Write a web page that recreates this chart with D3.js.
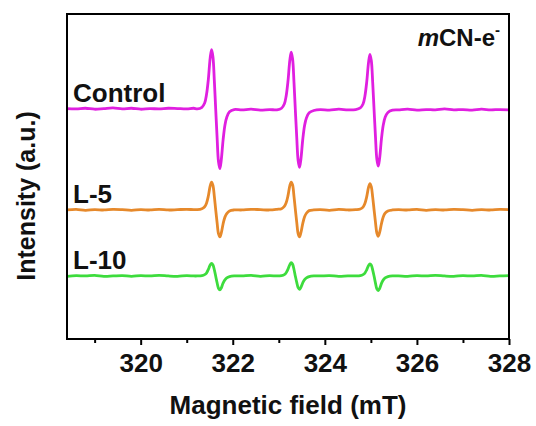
<!DOCTYPE html>
<html>
<head>
<meta charset="utf-8">
<script src="https://cdn.jsdelivr.net/npm/d3@7"></script>
<style>
  body { margin: 0; background: #fff; }
  text { font-family: "Liberation Sans", Arial, sans-serif; font-weight: bold; }
</style>
</head>
<body>
<div id="svg-container"></div>
<script>

// Field points (mT), shared by the three spectra.
var field = [
    318.4, 318.6, 318.8, 319.0, 319.2, 319.4, 319.6, 319.8, 320.0, 320.2, 320.4, 320.6, 320.8, 321.0, 321.15,
    321.23, 321.33, 321.39, 321.43, 321.47, 321.51, 321.54, 321.57, 321.60, 321.63, 321.66, 321.69, 321.72, 321.75, 321.79, 321.83, 321.87, 321.93, 322.03,
    322.2, 322.4, 322.6, 322.8,
    322.96, 323.06, 323.12, 323.16, 323.20, 323.24, 323.27, 323.30, 323.33, 323.36, 323.39, 323.42, 323.45, 323.48, 323.52, 323.56, 323.60, 323.66, 323.76,
    323.9, 324.1, 324.3, 324.5,
    324.67, 324.77, 324.83, 324.87, 324.91, 324.95, 324.98, 325.01, 325.04, 325.07, 325.10, 325.13, 325.16, 325.19, 325.23, 325.27, 325.31, 325.37, 325.47,
    325.6, 325.8, 326.0, 326.2, 326.4, 326.6, 326.8, 327.0, 327.2, 327.4, 327.6, 327.8, 328.0
];

// Intensity (a.u., stacked with offsets as in the figure)
var control = [
    7.09, 7.08, 7.10, 7.07, 7.09, 7.11, 7.08, 7.10, 7.07, 7.09, 7.08, 7.10, 7.09, 7.08, 7.10,
    7.08, 7.13, 7.26, 7.52, 7.99, 8.65, 8.90, 8.68, 7.95, 7.06, 6.20, 5.46, 5.24, 5.50, 6.12, 6.58, 6.82, 6.99, 7.06,
    7.05, 7.07, 7.04, 7.06,
    7.05, 7.10, 7.23, 7.48, 7.94, 8.58, 8.83, 8.62, 7.90, 7.03, 6.20, 5.49, 5.28, 5.53, 6.13, 6.57, 6.80, 6.96, 7.03,
    7.06, 7.04, 7.07, 7.05,
    7.06, 7.11, 7.23, 7.47, 7.91, 8.52, 8.76, 8.56, 7.88, 7.04, 6.22, 5.53, 5.32, 5.56, 6.16, 6.59, 6.82, 6.97, 7.04,
    7.05, 7.07, 7.04, 7.06, 7.05, 7.08, 7.05, 7.06, 7.04, 7.07, 7.05, 7.06, 7.05
];

var l5 = [
    3.97, 3.99, 3.96, 3.98, 3.97, 3.99, 3.98, 3.96, 3.98, 3.97, 3.99, 3.97, 3.98, 3.99, 3.98,
    3.98, 4.01, 4.07, 4.18, 4.40, 4.71, 4.83, 4.73, 4.39, 3.97, 3.58, 3.24, 3.14, 3.26, 3.54, 3.75, 3.86, 3.94, 3.97,
    3.97, 3.99, 3.98, 3.97,
    3.99, 4.01, 4.08, 4.19, 4.41, 4.72, 4.83, 4.74, 4.39, 3.98, 3.59, 3.24, 3.14, 3.27, 3.55, 3.76, 3.87, 3.95, 3.97,
    3.98, 3.96, 3.99, 3.97,
    3.98, 4.00, 4.06, 4.17, 4.38, 4.67, 4.78, 4.68, 4.36, 3.97, 3.59, 3.26, 3.16, 3.28, 3.55, 3.76, 3.87, 3.94, 3.97,
    3.98, 3.97, 3.99, 3.96, 3.98, 3.97, 3.99, 3.98, 3.96, 3.98, 3.97, 3.99, 3.98
];

var l10 = [
    1.93, 1.95, 1.94, 1.96, 1.93, 1.94, 1.95, 1.93, 1.95, 1.94, 1.96, 1.94, 1.93, 1.95, 1.94,
    1.94, 1.95, 1.98, 2.03, 2.14, 2.28, 2.33, 2.28, 2.13, 1.93, 1.73, 1.56, 1.51, 1.57, 1.72, 1.82, 1.88, 1.92, 1.94,
    1.94, 1.96, 1.93, 1.95,
    1.94, 1.95, 1.98, 2.04, 2.15, 2.29, 2.35, 2.30, 2.14, 1.93, 1.74, 1.58, 1.53, 1.59, 1.73, 1.83, 1.88, 1.92, 1.94,
    1.94, 1.95, 1.93, 1.94,
    1.94, 1.95, 1.98, 2.03, 2.13, 2.26, 2.31, 2.27, 2.12, 1.93, 1.72, 1.54, 1.49, 1.55, 1.71, 1.82, 1.88, 1.92, 1.94,
    1.94, 1.93, 1.95, 1.94, 1.96, 1.94, 1.93, 1.95, 1.94, 1.96, 1.93, 1.94, 1.95
];

var seriesNames = ["Control", "L-5", "L-10"];
var seriesColors = ["#e01fe0", "#e6892b", "#3ddc3d"];
var majorTicks = [320, 322, 324, 326, 328];
var minorTicks = [319, 321, 323, 325, 327];

var width = 536,
    height = 426,
    margin = { top: 14, right: 27, bottom: 87, left: 67 };

var plotW = width - margin.left - margin.right,
    plotH = height - margin.top - margin.bottom;

// Create the SVG Container.

var svgContainer = d3.select("#svg-container")
    .append("svg")
    .attr("width", width)
    .attr("height", height);

var g = svgContainer.append("g")
    .attr("transform", "translate(" + margin.left + "," + margin.top + ")");

var x = d3.scaleLinear().domain([318.4, 328]).range([0, plotW]);
var y = d3.scaleLinear().domain([0, 10]).range([plotH, 0]);

// Spectra

var seriesData = [control, l5, l10].map(function(vals, i) {
    return {
        name: seriesNames[i],
        color: seriesColors[i],
        points: field.map(function(f, j) { return [f, vals[j]]; })
    };
});

var line = d3.line()
    .x(function(d) { return x(d[0]); })
    .y(function(d) { return y(d[1]); })
    .curve(d3.curveCatmullRom);

g.selectAll("path.trace")
    .data(seriesData)
    .enter().append("path")
    .attr("class", "trace")
    .attr("fill", "none")
    .attr("stroke", function(d) { return d.color; })
    .attr("stroke-width", 2.8)
    .attr("stroke-linejoin", "round")
    .attr("d", function(d) { return line(d.points); });

// Series labels sit just above each baseline

g.selectAll("text.name")
    .data(seriesData)
    .enter().append("text")
    .attr("class", "name")
    .attr("x", 6)
    .attr("y", function(d) { return y(d.points[0][1]) - 7; })
    .attr("font-size", "26px")
    .attr("fill", "#111")
    .text(function(d) { return d.name; });

// Frame

g.append("rect")
    .attr("width", plotW)
    .attr("height", plotH)
    .attr("fill", "none")
    .attr("stroke", "#000")
    .attr("stroke-width", 2);

// Bottom axis, major and minor ticks

var xAxis = g.append("g")
    .attr("transform", "translate(0," + plotH + ")")
    .call(d3.axisBottom(x).tickValues(majorTicks).tickFormat(d3.format("d")).tickSize(6).tickPadding(9));

g.append("g")
    .attr("transform", "translate(0," + plotH + ")")
    .call(d3.axisBottom(x).tickValues(minorTicks).tickFormat("").tickSize(4))
    .select(".domain").remove();

xAxis.select(".domain").remove();
g.selectAll(".tick line").attr("stroke", "#000").attr("stroke-width", 2);
xAxis.selectAll(".tick text")
    .attr("font-size", "26px")
    .attr("font-family", "Liberation Sans, Arial, sans-serif")
    .attr("font-weight", "bold")
    .attr("fill", "#111");

// Axis titles

svgContainer.append("text")
    .attr("x", margin.left + plotW / 2)
    .attr("y", 414)
    .attr("text-anchor", "middle")
    .attr("font-size", "26px")
    .attr("fill", "#111")
    .text("Magnetic field (mT)");

svgContainer.append("text")
    .attr("transform", "translate(35," + (margin.top + 182) + ") rotate(-90)")
    .attr("text-anchor", "middle")
    .attr("font-size", "25px")
    .attr("fill", "#111")
    .text("Intensity (a.u.)");

// Sample annotation, top right

var note = g.append("text")
    .attr("x", plotW - 9)
    .attr("y", 32)
    .attr("text-anchor", "end")
    .attr("font-size", "24px")
    .attr("fill", "#111");

note.append("tspan").attr("font-style", "italic").text("m");
note.append("tspan").text("CN-e");
note.append("tspan").attr("dy", -11).attr("font-size", "15px").text("-");

</script>
</body>
</html>
